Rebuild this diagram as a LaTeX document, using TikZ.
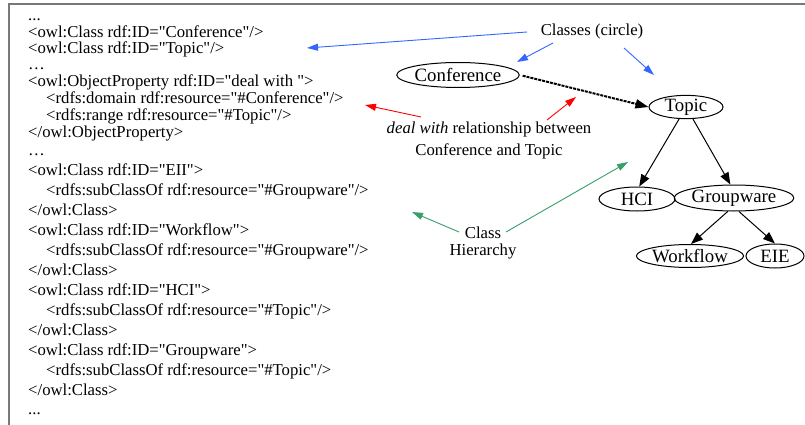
\documentclass[tikz,border=0pt]{standalone}
\usepackage{fontspec}
% keep ASCII quotes straight: no TeX input mapping
\setmainfont{Liberation Serif}[Ligatures=TeXOff]
\usetikzlibrary{arrows.meta,shapes.geometric}

\definecolor{framegray}{RGB}{120,120,120}
\definecolor{noteblue}{RGB}{51,102,255}
\definecolor{notered}{RGB}{255,0,0}
\definecolor{notegreen}{RGB}{56,158,106}

\tikzset{
  code/.style={anchor=base west, inner sep=0pt, font=\fontsize{16.7}{18}\selectfont},
  note/.style={anchor=base, inner sep=0pt, font=\fontsize{16.7}{18}\selectfont},
  cls/.style={ellipse, draw, line width=1pt, inner sep=0pt,
              font=\fontsize{18.8}{20}\selectfont},
  isa/.style={-{Triangle[length=12pt,width=9pt]}, line width=1pt},
  rel/.style={-{Triangle[length=13pt,width=9pt]}, line width=2pt,
              dash pattern=on 3pt off 1pt, shorten <=3pt},
  pointer/.style={line width=0.9pt, -{Triangle[length=11pt,width=7pt]}},
}

\begin{document}
\begin{tikzpicture}[x=1pt,y=-1pt]
\useasboundingbox (0,0) rectangle (805,425);

% frame around the listing
\draw[framegray, line width=2pt] (9,425) -- (9,4) -- (805,4);

% OWL listing
\node[code] (l1)  at (28,21)  {...};
\node[code] (l2)  at (28,38)  {<owl:Class rdf:ID="Conference"/>};
\node[code] (l3)  at (28,54)  {<owl:Class rdf:ID="Topic"/>};
\node[code] (l4)  at (28,70)  {\char"2026};
\node[code] (l5)  at (28,87)  {<owl:ObjectProperty rdf:ID="deal with ">};
\node[code] (l6)  at (46,104) {<rdfs:domain rdf:resource="\#Conference"/>};
\node[code] (l7)  at (46,121) {<rdfs:range rdf:resource="\#Topic"/>};
\node[code] (l8)  at (28,138) {</owl:ObjectProperty>};
\node[code] (l9)  at (28,155) {\char"2026};
\node[code] (l10) at (28,175) {<owl:Class rdf:ID="EII">};
\node[code] (l11) at (46,195) {<rdfs:subClassOf rdf:resource="\#Groupware"/>};
\node[code] (l12) at (28,215) {</owl:Class>};
\node[code] (l13) at (28,235) {<owl:Class rdf:ID="Workflow">};
\node[code] (l14) at (46,255) {<rdfs:subClassOf rdf:resource="\#Groupware"/>};
\node[code] (l15) at (28,275) {</owl:Class>};
\node[code] (l16) at (28,295) {<owl:Class rdf:ID="HCI">};
\node[code] (l17) at (46,315) {<rdfs:subClassOf rdf:resource="\#Topic"/>};
\node[code] (l18) at (28,335) {</owl:Class>};
\node[code] (l19) at (28,355) {<owl:Class rdf:ID="Groupware">};
\node[code] (l20) at (46,375) {<rdfs:subClassOf rdf:resource="\#Topic"/>};
\node[code] (l21) at (28,395) {</owl:Class>};
\node[code] (l22) at (28,414) {...};

% class graph
\node[cls, minimum width=112pt, minimum height=25pt] (conf)  at (458,75)  {Conference};
\node[cls, minimum width=74pt,  minimum height=21pt] (topic) at (686,107) {Topic};
\node[cls, minimum width=76pt,  minimum height=24pt] (hci)   at (637,199) {HCI};
\node[cls, minimum width=106pt, minimum height=26pt] (gw)    at (734,198) {Groupware};
\node[cls, minimum width=106pt, minimum height=23pt] (wf)    at (690,256) {Workflow};
\node[cls, minimum width=58pt,  minimum height=24pt] (eie)   at (775,256) {EIE};

\draw[rel] (conf.east) -- (topic.west);
\draw[isa] (topic.240) -- (hci.80);
\draw[isa] (topic.300) -- (gw.105);
\draw[isa] (gw.245) -- (wf.85);
\draw[isa] (gw.290) -- (eie.north);

% annotations
\node[note] (classes) at (592,36) {Classes (circle)};
\node[note] (dealA) at (489,133) {\textit{deal with} relationship between};
\node[note] (dealB) at (489,155) {Conference and Topic};
\node[note] (hierA) at (483,238) {Class};
\node[note] (hierB) at (483,255) {Hierarchy};

\coordinate (b1s) at (527,32);  \coordinate (b1e) at (307,48);
\coordinate (b2s) at (553,43);  \coordinate (b2e) at (517,62);
\coordinate (b3s) at (624,48);  \coordinate (b3e) at (654,75);
\coordinate (r1s) at (421,117); \coordinate (r1e) at (365,105);
\coordinate (r2s) at (547,120); \coordinate (r2e) at (576,97);
\coordinate (g1s) at (459,232); \coordinate (g1e) at (412,212);
\coordinate (g2s) at (506,232); \coordinate (g2e) at (628,162);

\draw[pointer, noteblue] (b1s) -- (b1e);
\draw[pointer, noteblue] (b2s) -- (b2e);
\draw[pointer, noteblue] (b3s) -- (b3e);
\draw[pointer, notered] (r1s) -- (r1e);
\draw[pointer, notered] (r2s) -- (r2e);
\draw[pointer, notegreen] (g1s) -- (g1e);
\draw[pointer, notegreen] (g2s) -- (g2e);
\end{tikzpicture}
\end{document}
